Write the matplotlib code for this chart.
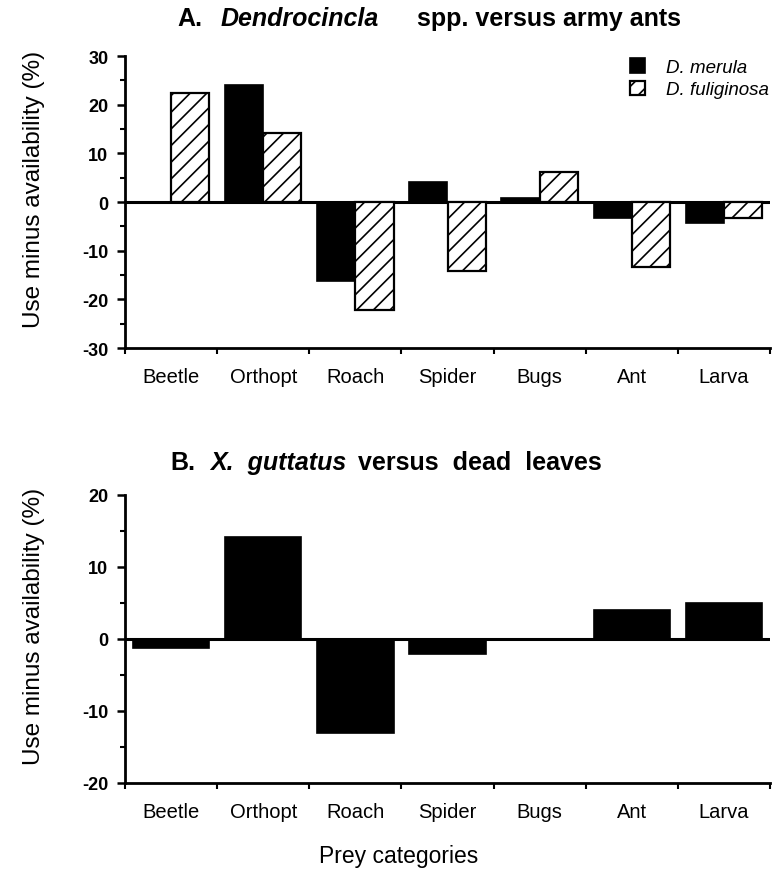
import matplotlib.pyplot as plt
import numpy as np

plt.rcParams['font.family'] = ['Liberation Sans', 'DejaVu Sans']
plt.rcParams['axes.unicode_minus'] = False
plt.rcParams['hatch.linewidth'] = 1.2

categories = ["Beetle", "Orthopt", "Roach", "Spider", "Bugs", "Ant", "Larva"]
merula = [0, 24.0, -16.2, 4.2, 0.9, -3.2, -4.3]
fuliginosa = [22.4, 14.2, -22.2, -14.1, 6.2, -13.3, -3.3]
guttatus = [-1.3, 14.1, -13.1, -2.1, 0, 4.0, 5.0]

W, H = 772, 870
fig = plt.figure(figsize=(W / 100, H / 100), dpi=100)
axA = fig.add_axes([125 / W, 1 - 349 / H, 645 / W, 292 / H])
axB = fig.add_axes([125 / W, 1 - 784 / H, 645 / W, 288 / H])

x = np.arange(len(categories)) + 0.5
w = 0.415


def style_axis(ax, lo, hi):
    ax.set_xlim(0, 7)
    ax.set_ylim(lo, hi)
    for s in ['top', 'right']:
        ax.spines[s].set_visible(False)
    ax.spines['left'].set_linewidth(2)
    ax.spines['bottom'].set_linewidth(2)
    ax.axhline(0, color='black', lw=2.2, zorder=1)
    ax.set_xticks(np.arange(8))
    ax.set_xticklabels([])
    ax.set_xticks(x, minor=True)
    ax.set_xticklabels(categories, minor=True, fontsize=14.5)
    ax.tick_params(axis='x', which='major', direction='out', length=4, width=1.5)
    ax.tick_params(axis='x', which='minor', length=0, pad=13.5)
    ax.set_yticks(np.arange(lo, hi + 1, 10))
    ax.set_yticks(np.arange(lo, hi + 1, 5), minor=True)
    ax.tick_params(axis='y', which='major', direction='out', length=6, width=1.8,
                   labelsize=13, pad=6)
    ax.tick_params(axis='y', which='minor', direction='out', length=3.5, width=1.5)
    for t in ax.get_yticklabels():
        t.set_fontweight('bold')
    ax.set_ylabel("Use minus availability (%)", fontsize=17.5)
    ax.yaxis.set_label_coords(-0.124, 0.548)


style_axis(axA, -30, 30)
axA.bar(x - w / 2, merula, w, color='black', edgecolor='black', lw=1.2, zorder=2, label='D. merula')
axA.bar(x + w / 2, fuliginosa, w, color='white', edgecolor='black', lw=1.6, hatch='//', zorder=2,
        label='D. fuliginosa')
axA.legend(loc='upper left', bbox_to_anchor=(621 / W, 1 - 50 / H), bbox_transform=fig.transFigure,
           frameon=False, borderpad=0, prop={'style': 'italic', 'size': 13.5},
           handlelength=0.8, handleheight=0.8, handletextpad=1.1, labelspacing=0.25)

style_axis(axB, -20, 20)
axB.bar(x, guttatus, 2 * w, color='black', edgecolor='black', lw=1.2, zorder=2)

fig.text(319 / W, 1 - 863 / H, "Prey categories", fontsize=16.5, va='baseline')

# titles: pieces placed at their pixel positions (bold, italic genus names)
title_A = [("A.", 'normal', 177), ("Dendrocincla", 'italic', 221),
           ("spp. versus army ants", 'normal', 417)]
title_B = [("B.", 'normal', 170), ("X.  guttatus", 'italic', 210),
           ("versus  dead  leaves", 'normal', 358)]
for parts, base in [(title_A, 26), (title_B, 470)]:
    for txt, style, px in parts:
        fig.text(px / W, 1 - base / H, txt, fontsize=18, fontweight='bold', style=style,
                 va='baseline')

fig.savefig("out.png", dpi=100)
